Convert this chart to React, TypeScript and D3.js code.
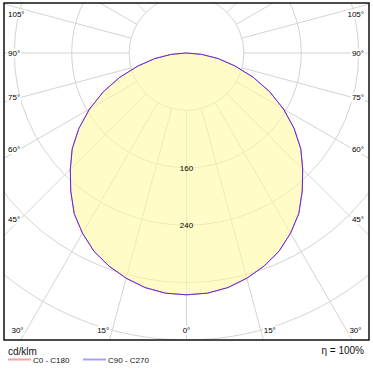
import React, { useEffect, useRef } from 'react'
import * as d3 from 'd3'

// gamma angles (deg) and luminous intensity (cd/klm)
const gammas = [0, 5, 10, 15, 20, 25, 30, 35, 40, 45, 50, 55, 60, 65, 70, 75, 80, 85, 90]
const c0c180 = [337, 336, 332, 325, 316, 305, 290, 273, 251, 229, 208, 183, 156, 128, 99, 70, 45, 21, 0]
const c90c270 = [337, 336, 332, 325, 316, 305, 290, 273, 251, 229, 208, 183, 156, 128, 99, 70, 45, 21, 0]

const ringValues = [80, 160, 240, 320, 400, 480]
const ringLabels = [160, 240]
const angleLabels = [0, 15, 30, 45, 60, 75, 90, 105]
const legendItems = ['C0 - C180', 'C90 - C270']
const unitLabel = 'cd/klm'
const effLabel = 'η = 100%'

const W = 373, H = 371
const frame = { x: 4, y: 3, w: 365, h: 337 }
const cx = 186.5, cy = 53
const font = 'Liberation Sans, Arial, sans-serif'

function App() {
  const ref = useRef<SVGSVGElement>(null)

  useEffect(() => {
    const svg = d3.select(ref.current)
    svg.selectAll('*').remove()

    const r = d3.scaleLinear().domain([0, 80]).range([0, 57.4])
    const rad = (d: number) => (d * Math.PI) / 180

    svg.append('defs').append('clipPath').attr('id', 'frameclip')
      .append('rect')
      .attr('x', frame.x).attr('y', frame.y)
      .attr('width', frame.w).attr('height', frame.h)

    const g = svg.append('g').attr('clip-path', 'url(#frameclip)')
    const grid = g.append('g').attr('transform', `translate(${cx},${cy})`)

    // rings
    grid.selectAll('circle.ring')
      .data(ringValues)
      .enter().append('circle')
      .attr('class', 'ring')
      .attr('r', d => r(d))
      .style('fill', 'none')
      .style('stroke', '#d4d4d4')
      .style('stroke-width', 1)

    // radial lines every 15 deg, starting at first ring
    const spokes = d3.range(0, 360, 15)
    grid.selectAll('line.spoke')
      .data(spokes)
      .enter().append('line')
      .attr('class', 'spoke')
      .attr('x1', d => r(80) * Math.sin(rad(d)))
      .attr('y1', d => r(80) * Math.cos(rad(d)))
      .attr('x2', d => 600 * Math.sin(rad(d)))
      .attr('y2', d => 600 * Math.cos(rad(d)))
      .style('stroke', '#d4d4d4')
      .style('stroke-width', 1)

    // curves: right half (angle pi - gamma) and left half (pi + gamma)
    const toPoints = (vals: number[]) => {
      const right = gammas.map((gm, i) => [Math.PI - rad(gm), r(vals[i])] as [number, number])
      const left = gammas.map((gm, i) => [Math.PI + rad(gm), r(vals[i])] as [number, number])
      return left.slice().reverse().concat(right.slice(1))
    }
    const line = d3.lineRadial<[number, number]>()
      .angle(d => d[0])
      .radius(d => d[1])
      .curve(d3.curveLinearClosed)

    const curves = g.append('g').attr('transform', `translate(${cx},${cy})`)
    curves.append('path')
      .attr('d', line(toPoints(c0c180)))
      .style('fill', 'rgb(255,250,163)')
      .style('fill-opacity', 0.6)
      .style('stroke', 'none')
    curves.append('path')
      .attr('d', line(toPoints(c0c180)))
      .style('fill', 'none')
      .style('stroke', '#ff3030')
      .style('stroke-width', 0.6)
    curves.append('path')
      .attr('d', line(toPoints(c90c270)))
      .style('fill', 'none')
      .style('stroke', '#5a2cf2')
      .style('stroke-width', 1)

    // ring value labels
    svg.selectAll('text.ringlab')
      .data(ringLabels)
      .enter().append('text')
      .attr('class', 'ringlab')
      .attr('x', cx)
      .attr('y', d => cy + r(d))
      .attr('dy', '0.35em')
      .attr('text-anchor', 'middle')
      .style('font-family', font)
      .style('font-size', '8px')
      .style('fill', '#000')
      .text(d => d)

    // angle labels on both sides
    const labs: { x: number, y: number, anchor: string, t: string }[] = []
    angleLabels.forEach(a => {
      const s = Math.sin(rad(a)), c = Math.cos(rad(a))
      const sideY = s > 0.01 ? cy + 166.5 * c / s : 1e9
      if (sideY < 320) {
        const y = Math.max(14, sideY)
        labs.push({ x: 8, y, anchor: 'start', t: a + '°' })
        labs.push({ x: 364, y, anchor: 'end', t: a + '°' })
      } else {
        const yb = 330
        const dx = (yb - cy) * s / c
        if (a === 0) {
          labs.push({ x: cx, y: yb, anchor: 'middle', t: a + '°' })
        } else {
          labs.push({ x: cx - dx - 3, y: yb, anchor: 'end', t: a + '°' })
          labs.push({ x: cx + dx + 3, y: yb, anchor: 'start', t: a + '°' })
        }
      }
    })
    const lg = svg.selectAll('g.anglab')
      .data(labs)
      .enter().append('g')
      .attr('class', 'anglab')
    lg.append('rect').style('fill', '#fff')
    lg.append('text')
      .attr('x', d => d.x)
      .attr('y', d => d.y)
      .attr('dy', '0.35em')
      .attr('text-anchor', d => d.anchor)
      .style('font-family', font)
      .style('font-size', '8px')
      .style('fill', '#000')
      .text(d => d.t)
    lg.each(function () {
      const t = d3.select(this).select('text').node() as SVGTextElement
      const b = t.getBBox()
      d3.select(this).select('rect')
        .attr('x', b.x - 1).attr('y', b.y)
        .attr('width', b.width + 2).attr('height', b.height)
    })

    // frame
    svg.append('rect')
      .attr('x', frame.x).attr('y', frame.y)
      .attr('width', frame.w).attr('height', frame.h)
      .style('fill', 'none')
      .style('stroke', '#111')
      .style('stroke-width', 1.5)

    // footer
    svg.append('text')
      .attr('x', 8).attr('y', 355)
      .style('font-family', font).style('font-size', '10px').style('fill', '#111')
      .text(unitLabel)
    svg.append('text')
      .attr('x', 364).attr('y', 354)
      .attr('text-anchor', 'end')
      .style('font-family', font).style('font-size', '10px').style('fill', '#111')
      .text(effLabel)

    const legColors = ['#f5a3a3', '#a3a3f5']
    const legX = [8, 83]
    legendItems.forEach((t, i) => {
      svg.append('line')
        .attr('x1', legX[i]).attr('x2', legX[i] + 23)
        .attr('y1', 359.5).attr('y2', 359.5)
        .style('stroke', legColors[i])
        .style('stroke-width', 2)
      svg.append('text')
        .attr('x', legX[i] + 25).attr('y', 362.5)
        .style('font-family', font).style('font-size', '8px').style('fill', '#111')
        .text(t)
    })
  }, [])

  return (
    <svg ref={ref} width={W} height={H}
      style={{ position: 'absolute', left: 0, top: 0, background: '#fff' }} />
  )
}

export default App
